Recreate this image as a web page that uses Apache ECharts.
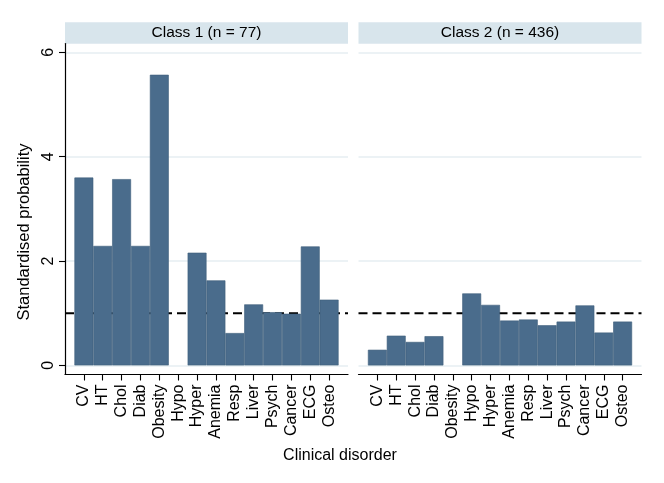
<!DOCTYPE html>
<html><head><meta charset="utf-8">
<script src="https://cdn.jsdelivr.net/npm/echarts@6/dist/echarts.min.js"></script>
<style>html,body{margin:0;padding:0;background:#fff}#c{width:664px;height:483px}</style>
</head><body><div id="c"></div>
<script>
const categories = ['CV','HT','Chol','Diab','Obesity','Hypo','Hyper','Anemia','Resp','Liver','Psych','Cancer','ECG','Osteo'];
const class1Values = [3.60,2.29,3.57,2.29,5.57,null,2.16,1.63,0.62,1.17,1.02,0.99,2.28,1.26];
const class2Values = [0.30,0.57,0.45,0.56,null,1.38,1.16,0.86,0.88,0.77,0.84,1.15,0.63,0.84];
const panelTitles = ['Class 1 (n = 77)','Class 2 (n = 436)'];
const yTicks = [0,2,4,6];
const referenceValue = 1;
const yTitle = 'Standardised probability';
const xTitle = 'Clinical disorder';

const FONT = "'Liberation Sans', Arial, Helvetica, sans-serif";
const panels = [
  {left: 65, width: 283},
  {left: 358.5, width: 283}
];
const gridTop = 43.5, gridHeight = 331;
const xMin = 0, xMax = categories.length + 1;
const positions = categories.map((_, i) => i + 1);
const seriesValues = [class1Values, class2Values];

const chart = echarts.init(document.getElementById('c'), null, {renderer: 'canvas'});

const barSeries = seriesValues.map((vals, i) => ({
  type: 'bar', xAxisIndex: i, yAxisIndex: i, z: 3, zlevel: 1,
  data: vals.map((v, j) => [positions[j], v]),
  barCategoryGap: '0%', barGap: '0%',
  itemStyle: {color: '#4a6c8c', borderColor: '#3e5e7b', borderWidth: 0.6}
}));
const refSeries = panels.map((p, i) => ({
  type: 'line', xAxisIndex: i, yAxisIndex: i, z: 1, zlevel: 0, silent: true,
  symbol: 'none',
  data: [[xMin, referenceValue], [xMax, referenceValue]],
  lineStyle: {color: '#000', type: [9, 5], width: 1.8}
}));

const option = {
  animation: false,
  backgroundColor: '#fff',
  textStyle: {fontFamily: FONT},
  grid: panels.map(p => ({left: p.left, width: p.width, top: gridTop, height: gridHeight, containLabel: false})),
  xAxis: panels.map((p, i) => ({
    type: 'value', gridIndex: i, min: xMin, max: xMax,
    axisLine: {show: true, onZero: false, lineStyle: {color: '#000', width: 1.2}},
    axisTick: {show: true, length: 6, customValues: positions, lineStyle: {color: '#000', width: 1.1}},
    axisLabel: {show: true, rotate: 90, margin: 10, fontSize: 16, color: '#000', fontFamily: FONT,
      customValues: positions, formatter: v => categories[Math.round(v) - 1] || ''},
    splitLine: {show: false}
  })),
  yAxis: panels.map((p, i) => ({
    type: 'value', gridIndex: i, min: -0.174, max: 6.169,
    axisLine: {show: i === 0, onZero: false, lineStyle: {color: '#000', width: 1.2}},
    axisTick: {show: i === 0, length: 6, customValues: yTicks, lineStyle: {color: '#000', width: 1.1}},
    axisLabel: {show: i === 0, rotate: 90, margin: 8, fontSize: 16, color: '#000', fontFamily: FONT, customValues: yTicks},
    splitLine: {show: true, lineStyle: {color: '#e6eef2', width: 1.5}}
  })),
  series: [...refSeries, ...barSeries],
  graphic: [
    ...panels.map((p, i) => ({
      type: 'group', left: p.left, top: 22.3,
      children: [
        {type: 'rect', shape: {x: 0, y: 0, width: p.width, height: 21.4}, style: {fill: '#d8e5ec'}},
        {type: 'text', x: p.width / 2, y: 10.9, style: {text: panelTitles[i], fill: '#000', font: '15.5px ' + FONT, textAlign: 'center', textVerticalAlign: 'middle'}}
      ]
    })),
    {type: 'text', x: 24.5, y: 232, rotation: Math.PI / 2,
      style: {text: yTitle, fill: '#000', font: '16.5px ' + FONT, textAlign: 'center', textVerticalAlign: 'middle'}},
    {type: 'text', x: 340, y: 455.5, style: {text: xTitle, fill: '#000', font: '16px ' + FONT, textAlign: 'center', textVerticalAlign: 'middle'}}
  ]
};
chart.setOption(option);
</script>
</body></html>
